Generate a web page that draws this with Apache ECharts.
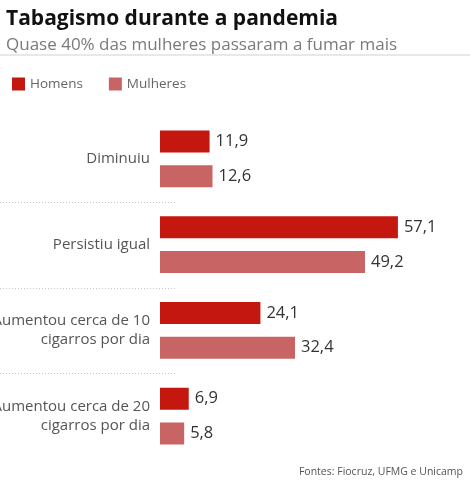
<!DOCTYPE html>
<html>
<head>
<meta charset="utf-8" />
<title>Tabagismo durante a pandemia</title>
<script src="https://cdn.jsdelivr.net/npm/echarts@6/dist/echarts.min.js"></script>
<style>
  html, body { margin: 0; padding: 0; background: #fff; }
</style>
</head>
<body>
<div id="main" style="width: 470px;height:480px;"></div>
<script type="text/javascript">
// dados
var categorias = ['Diminuiu', 'Persistiu igual', 'Aumentou cerca de 10\ncigarros por dia', 'Aumentou cerca de 20\ncigarros por dia'];
var homens = [11.9, 57.1, 24.1, 6.9];
var mulheres = [12.6, 49.2, 32.4, 5.8];

var corHomens = '#c3170f';
var corMulheres = '#c96464';

var myChart = echarts.init(document.getElementById('main'));

function rotulo(p) {
    return String(p.value).replace('.', ',');
}

var option = {
    animation: false,
    backgroundColor: '#fff',
    textStyle: { fontFamily: 'Open Sans' },
    title: [
        {
            text: 'Tabagismo durante a pandemia',
            left: 1, top: 4,
            textStyle: { fontFamily: 'Open Sans', fontWeight: 'bold', fontSize: 21, color: '#111' }
        },
        {
            text: 'Quase 40% das mulheres passaram a fumar mais',
            left: 1, top: 32,
            textStyle: { fontFamily: 'Open Sans', fontWeight: 'normal', fontSize: 17, color: '#7a7a7a' }
        },
        {
            text: 'Fontes: Fiocruz, UFMG e Unicamp',
            right: 2, top: 462,
            textStyle: { fontFamily: 'Open Sans', fontWeight: 'normal', fontSize: 10.5, color: '#555' }
        }
    ],
    legend: {
        left: 7, top: 72,
        itemWidth: 13, itemHeight: 13,
        itemGap: 26,
        icon: 'rect',
        textStyle: { fontSize: 13.5, color: '#666' },
        data: ['Homens', 'Mulheres']
    },
    grid: { left: 160, top: 116, width: 250, bottom: 21, outerBoundsMode: 'none', containLabel: false },
    xAxis: {
        type: 'value', min: 0, max: 60,
        show: false
    },
    yAxis: {
        type: 'category',
        inverse: true,
        data: categorias,
        axisLine: { show: false },
        axisTick: { show: false },
        axisLabel: { fontSize: 15, color: '#555', margin: 10, lineHeight: 19, align: 'right' }
    },
    series: [
        {
            name: 'Homens', type: 'bar', data: homens,
            barWidth: 22, barGap: '58%',
            itemStyle: { color: corHomens },
            label: { show: true, position: 'right', distance: 6, fontSize: 16.5, color: '#333', formatter: rotulo }
        },
        {
            name: 'Mulheres', type: 'bar', data: mulheres,
            barWidth: 22, barGap: '58%',
            itemStyle: { color: corMulheres },
            label: { show: true, position: 'right', distance: 6, fontSize: 16.5, color: '#333', formatter: rotulo }
        }
    ]
};

myChart.setOption(option);

// linha sob o subtítulo e separadores pontilhados entre categorias
var graficos = [{
    type: 'rect', shape: { x: 0, y: 54, width: 470, height: 2 },
    style: { fill: '#e8e8e8' }
}];
for (var i = 1; i < categorias.length; i++) {
    var y0 = myChart.convertToPixel({ yAxisIndex: 0 }, categorias[i - 1]);
    var y1 = myChart.convertToPixel({ yAxisIndex: 0 }, categorias[i]);
    var ym = Math.round((y0 + y1) / 2) + 0.5;
    graficos.push({
        type: 'line',
        shape: { x1: 0, y1: ym, x2: 177, y2: ym },
        style: { stroke: '#c8c8c8', lineWidth: 1, lineDash: [1, 2] }
    });
}
myChart.setOption({ graphic: graficos });
</script>
</body>
</html>
